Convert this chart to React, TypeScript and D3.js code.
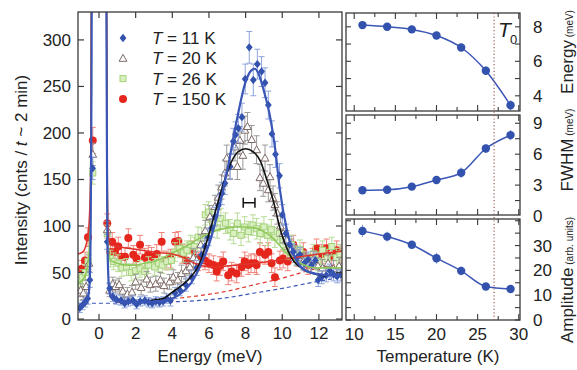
import React from 'react';
import * as d3 from 'd3';

// ---------- Data (main panel: [Energy meV, Intensity, error]) ----------
const blue11: number[][] = [
  [-1.05, 12, 5], [-0.9, 15, 5], [-0.75, 18, 5], [-0.62, 22, 6], [-0.5, 42, 8], [-0.35, 162, 12],
  [0.45, 83, 8], [0.58, 33, 6], [0.75, 24, 5], [0.95, 21, 5], [1.2, 20, 5], [1.4, 17, 5], [1.6, 19, 5],
  [1.85, 20, 5], [2.05, 16, 5], [2.25, 19, 5], [2.5, 20, 5], [2.7, 18, 5], [2.9, 17, 5], [3.1, 19, 5],
  [3.3, 18, 5], [3.5, 19, 5], [3.7, 22, 5], [3.9, 20, 6], [4.15, 28, 6], [4.42, 31, 6], [4.73, 37, 7],
  [5.06, 45, 7], [5.33, 55, 8], [5.6, 69, 8], [5.78, 78, 9], [5.96, 88, 9], [6.15, 98, 10], [6.33, 110, 10],
  [6.51, 122, 11], [6.7, 135, 12], [6.87, 146, 12], [7.15, 164, 13], [7.33, 191, 14], [7.45, 198, 14],
  [7.6, 205, 15], [7.8, 217, 15], [7.98, 258, 16], [8.2, 292, 17], [8.42, 257, 17], [8.64, 274, 16],
  [8.87, 266, 16], [9.06, 254, 16], [9.24, 230, 15], [9.44, 199, 14], [9.63, 177, 14], [9.85, 154, 13],
  [10.0, 112, 11], [10.2, 92, 10], [10.4, 80, 9], [10.6, 72, 9], [10.8, 66, 8], [10.97, 69, 8], [11.2, 60, 8],
  [11.4, 64, 8], [11.6, 58, 8], [11.8, 63, 8], [11.96, 42, 7], [12.15, 45, 7], [12.4, 47, 7], [12.6, 52, 7],
  [12.8, 48, 7], [13.0, 46, 7], [13.2, 48, 7],
];

const tri20: number[][] = [
  [-1.0, 31, 7], [-0.85, 28, 7], [-0.7, 35, 7], [-0.55, 60, 9], [-0.34, 177, 12],
  [0.45, 96, 9], [0.58, 31, 7], [0.75, 38, 7], [0.9, 35, 7], [1.1, 37, 7], [1.3, 30, 7], [1.55, 27, 7],
  [1.8, 29, 7], [2.0, 40, 8], [2.3, 34, 8], [2.6, 43, 8], [2.8, 37, 8], [3.1, 38, 8], [3.35, 42, 8],
  [3.55, 36, 8], [3.85, 40, 8], [4.05, 45, 8], [4.3, 42, 8], [4.5, 49, 9], [4.75, 52, 9], [4.96, 56, 9],
  [5.15, 66, 10], [5.33, 63, 10], [5.55, 80, 11], [5.8, 95, 11], [6.05, 110, 12], [6.33, 121, 12],
  [6.51, 131, 13], [6.69, 142, 13], [6.87, 157, 14], [6.97, 173, 14], [7.15, 164, 14], [7.42, 185, 15],
  [7.55, 164, 14], [7.69, 192, 15], [7.85, 176, 15], [7.96, 203, 15], [8.1, 207, 15], [8.33, 193, 15],
  [8.6, 182, 15], [8.78, 152, 14], [8.96, 146, 14], [9.06, 173, 14], [9.24, 139, 13], [9.33, 153, 13],
  [9.5, 130, 13], [9.6, 123, 12], [9.73, 114, 12], [9.9, 100, 11], [10.05, 92, 10], [10.24, 85, 10],
  [10.5, 76, 10], [10.7, 70, 9], [10.9, 66, 9], [11.15, 62, 9], [11.4, 60, 9], [11.7, 64, 9], [11.95, 57, 9],
  [12.2, 55, 9], [12.5, 60, 9], [12.8, 54, 9], [13.1, 57, 9],
];

const green26: number[][] = [
  [-1.05, 37, 8], [-0.9, 45, 8], [-0.75, 50, 8], [-0.6, 62, 9], [-0.34, 157, 12], [0.45, 92, 9],
  [0.62, 65, 9], [0.8, 62, 9], [1.04, 60, 9], [1.25, 55, 9], [1.5, 56, 9], [1.76, 50, 9], [2.0, 52, 9],
  [2.24, 54, 9], [2.49, 51, 9], [2.7, 58, 9], [3.04, 56, 9], [3.25, 60, 9], [3.45, 58, 9], [3.7, 62, 9],
  [3.95, 63, 9], [4.15, 72, 10], [4.4, 76, 10], [4.6, 71, 10], [4.8, 74, 10], [5.0, 80, 10], [5.2, 78, 10],
  [5.4, 88, 11], [5.6, 87, 11], [5.8, 112, 11], [5.98, 115, 11], [6.2, 105, 11], [6.45, 98, 11],
  [6.65, 108, 11], [6.9, 103, 11], [7.15, 96, 11], [7.35, 92, 11], [7.55, 103, 11], [7.75, 90, 11],
  [7.95, 99, 11], [8.15, 94, 11], [8.4, 101, 11], [8.6, 97, 11], [8.8, 92, 11], [9.0, 99, 11], [9.2, 90, 11],
  [9.4, 96, 11], [9.6, 88, 11], [9.85, 92, 11], [10.05, 84, 10], [10.25, 74, 10], [10.5, 80, 10],
  [10.75, 68, 10], [10.97, 75, 10], [11.2, 63, 10], [11.45, 60, 10], [11.7, 70, 10], [11.95, 62, 10],
  [12.2, 74, 10], [12.45, 65, 10], [12.7, 78, 10], [12.95, 66, 10], [13.15, 70, 10],
];

const red150: number[][] = [
  [-0.95, 54, 9], [-0.76, 63, 9], [-0.6, 88, 10], [-0.34, 192, 14], [0.45, 103, 10], [0.62, 72, 10],
  [0.72, 83, 10], [0.87, 72, 10], [1.05, 78, 10], [1.22, 67, 10], [1.42, 67, 10], [1.6, 87, 10],
  [1.87, 69, 10], [2.05, 65, 10], [2.24, 80, 10], [2.5, 66, 10], [2.69, 69, 10], [2.87, 67, 10],
  [3.15, 70, 10], [3.42, 83, 10], [3.69, 63, 10], [3.9, 65, 10], [4.15, 83, 10], [4.33, 84, 10],
  [4.55, 70, 10], [4.78, 63, 10], [5.06, 74, 10], [5.25, 66, 10], [5.42, 62, 10], [5.6, 66, 10],
  [5.78, 63, 10], [6.0, 60, 10], [6.24, 58, 10], [6.42, 51, 10], [6.6, 57, 10], [6.78, 62, 10],
  [7.05, 47, 10], [7.24, 51, 10], [7.51, 49, 10], [7.78, 56, 10], [7.95, 62, 10], [8.14, 58, 10],
  [8.3, 60, 10], [8.5, 60, 10], [8.6, 58, 10], [8.78, 72, 10], [9.06, 69, 10], [9.24, 72, 10],
  [9.42, 60, 10], [9.6, 45, 10], [9.87, 63, 10], [10.05, 65, 10], [10.3, 62, 10], [10.6, 80, 10],
  [10.8, 67, 10], [11.15, 72, 10], [11.4, 58, 10], [11.65, 66, 10], [11.87, 76, 10], [12.15, 70, 10],
  [12.42, 76, 10], [12.7, 68, 10], [12.97, 74, 10], [13.2, 70, 10],
];

// fit curves: [Energy, Intensity]
const fitBlue: number[][] = [
  [-1.15, 14], [-0.9, 15], [-0.7, 18], [-0.58, 25], [-0.5, 45], [-0.45, 110], [-0.41, 250], [-0.38, 420],
  [0.38, 420], [0.42, 250], [0.45, 110], [0.5, 50], [0.58, 28], [0.7, 22], [1.0, 19], [2.0, 18], [3.0, 19],
  [3.6, 20], [4.0, 22], [4.5, 28], [5.0, 38], [5.5, 56], [6.0, 80], [6.5, 116], [7.0, 160], [7.5, 212],
  [8.0, 255], [8.3, 267], [8.5, 269], [8.7, 264], [9.0, 245], [9.33, 218], [9.6, 185], [9.87, 139],
  [10.25, 96], [10.6, 71], [11.2, 53], [12.0, 48], [12.6, 47], [13.3, 47],
];
const fitBlack: number[][] = [
  [2.8, 20], [3.5, 22], [4.0, 29], [4.5, 36], [5.0, 45], [5.5, 60], [5.8, 78], [6.3, 112], [6.8, 146],
  [7.2, 168], [7.6, 180], [8.0, 183], [8.4, 180], [8.8, 170], [9.2, 147], [9.5, 128], [9.9, 96],
  [10.5, 66], [11.3, 52], [12.1, 47], [12.4, 46],
];
const fitGreen: number[][] = [
  [-1.15, 38], [-0.9, 42], [-0.7, 50], [-0.55, 70], [-0.45, 150], [-0.4, 420], [0.4, 420], [0.45, 140],
  [0.5, 80], [0.6, 64], [1.0, 60], [1.5, 58], [2.0, 58], [2.5, 60], [3.0, 62], [3.5, 66], [4.0, 71],
  [4.5, 76], [5.0, 81], [5.5, 87], [6.0, 92], [6.5, 96], [7.0, 98], [7.5, 99], [8.0, 99], [8.5, 98],
  [9.0, 94], [9.5, 87], [10.0, 76], [10.5, 66], [11.0, 60], [11.5, 56], [12.0, 55], [12.5, 55], [13.3, 55],
];
const fitRed: number[][] = [
  [-1.15, 70], [-0.9, 72], [-0.7, 80], [-0.55, 100], [-0.45, 160], [-0.4, 420], [0.4, 420], [0.45, 150],
  [0.5, 95], [0.6, 80], [1.0, 78], [2.0, 75], [3.0, 72], [3.5, 71], [4.0, 70], [4.5, 67], [5.0, 62],
  [5.5, 58], [6.0, 56], [7.0, 57], [8.0, 59], [9.0, 61], [10.0, 64], [11.0, 67], [12.0, 70], [13.3, 73],
];
const bgBlue: number[][] = [
  [-1.15, 17], [2.0, 17], [4.0, 18.5], [5.5, 20], [7.0, 23], [8.5, 28], [10.0, 33], [11.8, 40], [13.3, 45],
];
const bgRed: number[][] = [
  [1.0, 18], [3.0, 20], [5.0, 24], [7.0, 30], [8.5, 37], [10.0, 44], [11.8, 54], [13.3, 60],
];
const resolution = { e0: 7.87, e1: 8.51, i: 125 };

const legendLabels = ['11 K', '20 K', '26 K', '150 K'];
const xTicksMain = [0, 2, 4, 6, 8, 10, 12];
const yTicksMain = [0, 50, 100, 150, 200, 250, 300];

// right panels
const temps = [11, 14, 17, 20, 23, 26, 29];
const energy = [8.1, 8.0, 7.85, 7.5, 6.8, 5.45, 3.45];
const energyErr = [0.08, 0.08, 0.08, 0.1, 0.2, 0.25, 0.3];
const fwhm = [2.5, 2.55, 2.85, 3.5, 4.2, 6.55, 7.85];
const fwhmErr = [0.15, 0.15, 0.2, 0.3, 0.5, 0.4, 0.5];
const amp = [35.9, 33.6, 30.3, 24.9, 19.8, 13.5, 12.5];
const ampErr = [2.5, 2.0, 1.0, 2.2, 1.8, 1.2, 0.8];
const T0 = 27;
const tempTicks = [10, 15, 20, 25, 30];

const FONT = "'Liberation Sans', Arial, Helvetica, sans-serif";
const AX = '#3a3a3a';

const C = {
  blue: '#3352ae', blueErr: '#8ea4dc', blueLine: '#3a56b6',
  red: '#e5261d', redErr: '#f0837a', redLine: '#e0352c',
  green: '#a3d27a', greenFill: '#d9efbf', greenErr: '#b8dc95', greenLine: '#8fc75a',
  tri: '#7d6a66', triErr: '#9a9a9a', black: '#111',
};

function Marker({ kind, x, y }: { kind: string; x: number; y: number }) {
  if (kind === 'diamond')
    return <path d={`M${x},${y - 4.2}L${x + 3.4},${y}L${x},${y + 4.2}L${x - 3.4},${y}Z`} fill={C.blue} />;
  if (kind === 'circle') return <circle cx={x} cy={y} r={4} fill={C.red} />;
  if (kind === 'square')
    return <rect x={x - 3} y={y - 3} width={6} height={6} fill={C.greenFill} stroke={C.green} strokeWidth={1} />;
  return (
    <path d={`M${x},${y - 4}L${x + 3.9},${y + 3}L${x - 3.9},${y + 3}Z`} fill="#fff" stroke={C.tri} strokeWidth={1} />
  );
}

function Series({ data, kind, errColor, x, y }: any) {
  return (
    <g>
      {data.map((d: number[], i: number) => {
        const px = x(d[0]);
        const y0 = y(d[1] - d[2]);
        const y1 = y(d[1] + d[2]);
        return (
          <g key={'e' + i} stroke={errColor} strokeWidth={1}>
            <line x1={px} x2={px} y1={y0} y2={y1} />
            <line x1={px - 3} x2={px + 3} y1={y0} y2={y0} />
            <line x1={px - 3} x2={px + 3} y1={y1} y2={y1} />
          </g>
        );
      })}
      {data.map((d: number[], i: number) => (
        <Marker key={'m' + i} kind={kind} x={x(d[0])} y={y(d[1])} />
      ))}
    </g>
  );
}

export default function App() {
  const L = 78, R = 342, TOP = 12, BOT = 320;
  const x = d3.scaleLinear().domain([-1.146, 13.26]).range([L, R]);
  const y = d3.scaleLinear().domain([-1, 330]).range([BOT, TOP]);
  const line = d3.line<number[]>().x(d => x(d[0])).y(d => y(d[1])).curve(d3.curveMonotoneX);

  // right panels
  const RL = 346, RR = 520;
  const xt = d3.scaleLinear().domain([9, 30.15]).range([RL, RR]);
  const panels = [
    { top: 13, bot: 111, dom: [3.12, 8.8], vals: energy, errs: energyErr, labels: [4, 6, 8], minor: 1, title: 'Energy', unit: ' (meV)', tc: 52 },
    { top: 115, bot: 215, dom: [0.1, 9.8], vals: fwhm, errs: fwhmErr, labels: [0, 3, 6, 9], minor: 1.5, title: 'FWHM', unit: ' (meV)', tc: 150 },
    { top: 219, bot: 320, dom: [0, 40.7], vals: amp, errs: ampErr, labels: [0, 10, 20, 30], minor: 5, title: 'Amplitude', unit: ' (arb. units)', tc: 280 },
  ];
  const minorT = d3.range(10, 30.01, 2.5);

  const legendKinds = ['diamond', 'triangle', 'square', 'circle'];

  return (
    <svg width={577} height={370} style={{ position: 'absolute', left: 0, top: 0, background: '#fff' }} fontFamily={FONT}>
      <defs>
        <clipPath id="mainclip">
          <rect x={L} y={TOP} width={R - L} height={BOT - TOP} />
        </clipPath>
      </defs>

      {/* main panel content */}
      <g clipPath="url(#mainclip)">
        <path d={line(bgBlue) || ''} fill="none" stroke={C.blueLine} strokeWidth={1.2} strokeDasharray="4,3" />
        <path d={line(bgRed) || ''} fill="none" stroke={C.redLine} strokeWidth={1.2} strokeDasharray="4,3" />
        <Series data={red150} kind="circle" errColor={C.redErr} x={x} y={y} />
        <Series data={green26} kind="square" errColor={C.greenErr} x={x} y={y} />
        <Series data={tri20} kind="triangle" errColor={C.triErr} x={x} y={y} />
        <Series data={blue11} kind="diamond" errColor={C.blueErr} x={x} y={y} />
        <path d={line(fitGreen) || ''} fill="none" stroke={C.greenLine} strokeWidth={1.6} />
        <path d={line(fitRed) || ''} fill="none" stroke={C.redLine} strokeWidth={1.6} />
        <path d={line(fitBlack) || ''} fill="none" stroke={C.black} strokeWidth={1.6} />
        <path d={line(fitBlue) || ''} fill="none" stroke={C.blueLine} strokeWidth={2.2} />
        {/* resolution bar */}
        <g stroke="#111" strokeWidth={1.5}>
          <line x1={x(resolution.e0)} x2={x(resolution.e1)} y1={y(resolution.i)} y2={y(resolution.i)} />
          <line x1={x(resolution.e0)} x2={x(resolution.e0)} y1={y(resolution.i) - 5} y2={y(resolution.i) + 5} />
          <line x1={x(resolution.e1)} x2={x(resolution.e1)} y1={y(resolution.i) - 5} y2={y(resolution.i) + 5} />
        </g>
      </g>

      {/* main frame & ticks */}
      <rect x={L} y={TOP} width={R - L} height={BOT - TOP} fill="none" stroke={AX} strokeWidth={1.3} />
      {xTicksMain.map(t => (
        <g key={'xt' + t} stroke={AX} strokeWidth={1.2}>
          <line x1={x(t)} x2={x(t)} y1={BOT} y2={BOT - 6} />
          <line x1={x(t)} x2={x(t)} y1={TOP} y2={TOP + 6} />
        </g>
      ))}
      {yTicksMain.map(t => (
        <g key={'yt' + t} stroke={AX} strokeWidth={1.2}>
          <line x1={L} x2={L + 6} y1={y(t)} y2={y(t)} />
          <line x1={R} x2={R - 6} y1={y(t)} y2={y(t)} />
        </g>
      ))}
      {xTicksMain.map(t => (
        <text key={'xl' + t} x={x(t)} y={339} fontSize={17} textAnchor="middle" fill="#222">{t}</text>
      ))}
      {yTicksMain.map(t => (
        <text key={'yl' + t} x={71} y={y(t) + 6} fontSize={17} textAnchor="end" fill="#222">{t}</text>
      ))}
      <text x={210} y={362} fontSize={17} textAnchor="middle" fill="#222">Energy (meV)</text>
      <text transform="translate(27,170) rotate(-90)" fontSize={17} textAnchor="middle" fill="#222">
        Intensity (cnts / <tspan fontStyle="italic">t</tspan> ~ 2 min)
      </text>

      {/* legend */}
      {legendLabels.map((lab, i) => {
        const cy = 38 + i * 20.3;
        return (
          <g key={'lg' + i}>
            <Marker kind={legendKinds[i]} x={123} y={cy} />
            <text x={152} y={cy + 6} fontSize={17} fill="#222">
              <tspan fontStyle="italic">T</tspan> = {lab}
            </text>
          </g>
        );
      })}

      {/* right panels */}
      {panels.map((p, pi) => {
        const ys = d3.scaleLinear().domain(p.dom).range([p.bot, p.top]);
        const pl = d3.line<number>().x((_, i) => xt(temps[i])).y(v => ys(v)).curve(d3.curveMonotoneX);
        const minorY = d3.range(Math.ceil(p.dom[0] / p.minor) * p.minor, p.dom[1] + 1e-9, p.minor);
        return (
          <g key={'p' + pi}>
            <path d={pl(p.vals) || ''} fill="none" stroke={C.blueLine} strokeWidth={1.5} />
            {p.vals.map((v, i) => (
              <g key={'pe' + i} stroke={C.blueErr} strokeWidth={1.2}>
                <line x1={xt(temps[i])} x2={xt(temps[i])} y1={ys(v - p.errs[i])} y2={ys(v + p.errs[i])} />
              </g>
            ))}
            {p.vals.map((v, i) => (
              <circle key={'pc' + i} cx={xt(temps[i])} cy={ys(v)} r={4.2} fill={C.blue} />
            ))}
            <rect x={RL} y={p.top} width={RR - RL} height={p.bot - p.top} fill="none" stroke={AX} strokeWidth={1.3} />
            {minorT.map(t => {
              const major = t % 5 === 0;
              const len = major ? 6 : 4;
              return (
                <g key={'tt' + t} stroke={AX} strokeWidth={1.1}>
                  <line x1={xt(t)} x2={xt(t)} y1={p.bot} y2={p.bot - len} />
                  <line x1={xt(t)} x2={xt(t)} y1={p.top} y2={p.top + len} />
                </g>
              );
            })}
            {minorY.map(v => (
              <g key={'yy' + v} stroke={AX} strokeWidth={1.1}>
                <line x1={RL} x2={RL + 5} y1={ys(v)} y2={ys(v)} />
                <line x1={RR} x2={RR - 5} y1={ys(v)} y2={ys(v)} />
              </g>
            ))}
            {p.labels.map(v => (
              <text key={'pl' + v} x={533} y={Math.min(ys(v), p.bot + 1) + 6} fontSize={17} fill="#222">{v}</text>
            ))}
            <text transform={`translate(573,${p.tc}) rotate(-90)`} textAnchor="middle" fill="#222">
              <tspan fontSize={17}>{p.title}</tspan>
              <tspan fontSize={10}>{p.unit}</tspan>
            </text>
          </g>
        );
      })}
      <line x1={xt(T0)} x2={xt(T0)} y1={13} y2={320} stroke="#9b5a5a" strokeWidth={1.2} strokeDasharray="1.2,2.2" />
      <text x={498} y={37} fontSize={21} fontStyle="italic" fill="#222">T</text>
      <text x={510} y={44} fontSize={13} fill="#222">0</text>
      {tempTicks.map(t => (
        <text key={'tl' + t} x={xt(t)} y={340} fontSize={17} textAnchor="middle" fill="#222">{t}</text>
      ))}
      <text x={438} y={362} fontSize={17} textAnchor="middle" fill="#222">Temperature (K)</text>
    </svg>
  );
}
